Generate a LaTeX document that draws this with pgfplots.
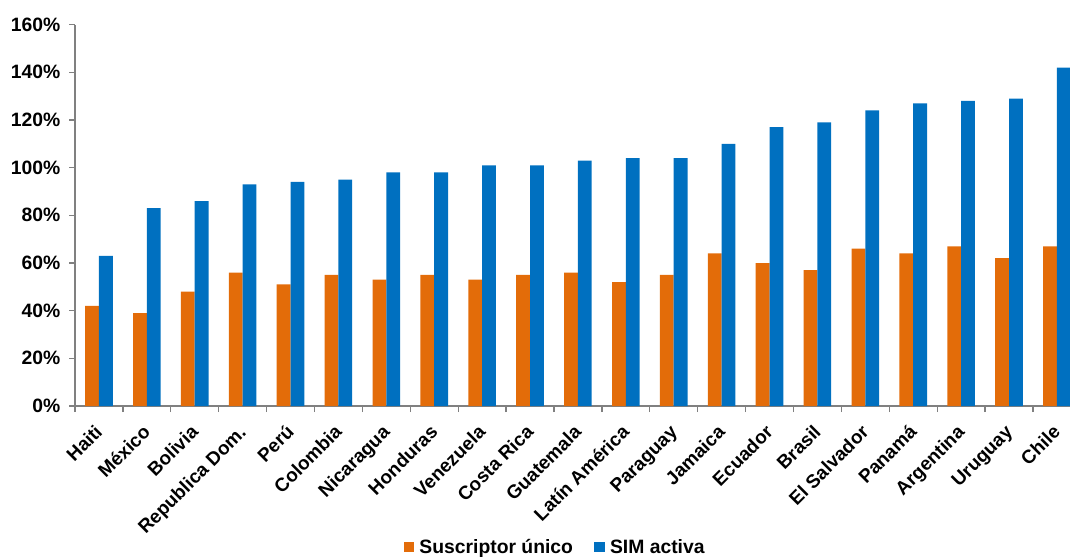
\documentclass[border=0pt]{standalone}
\usepackage{fontspec}
\setmainfont{Liberation Sans}
\usepackage{pgfplots}
\pgfplotsset{compat=1.18}
\definecolor{cOr}{HTML}{E36C09}
\definecolor{cBl}{HTML}{0070C0}
\definecolor{axgray}{HTML}{808080}
\pgfplotsset{sqleg/.style={legend image code/.code={\fill[##1] (0pt,-3.9pt) rectangle (7.8pt,3.9pt);}}}
\begin{document}
\begin{tikzpicture}
\path[use as bounding box] (0,0) rectangle (802.5pt,417.75pt);
\begin{axis}[
  anchor=south west, at={(56.25pt,113.25pt)},
  scale only axis, width=754.4pt, height=286pt,
  xmin=-0.5, xmax=20.5, ymin=0, ymax=160,
  axis x line*=bottom, axis y line*=left,
  axis line style={axgray, line width=1pt},
  ybar=0pt, bar width=10.35pt,
  xtick={0,...,20},
  xticklabels={Haiti,México,Bolivia,Republica Dom.,Perú,Colombia,Nicaragua,Honduras,Venezuela,Costa Rica,Guatemala,Latín América,Paraguay,Jamaica,Ecuador,Brasil,El Salvador,Panamá,Argentina,Uruguay,Chile},
  major x tick style={draw=none},
  minor xtick={-0.5,0.5,...,20.5},
  minor x tick style={axgray, line width=1pt},
  minor tick length=4.5pt, major tick length=4.5pt,
  tick align=outside,
  y tick style={axgray, line width=1pt},
  ytick={0,20,...,160},
  yticklabels={0\%,20\%,40\%,60\%,80\%,100\%,120\%,140\%,160\%},
  yticklabel style={font=\bfseries\fontsize{14.5}{16}\selectfont, xshift=-3pt},
  xticklabel style={font=\bfseries\fontsize{14.2}{16}\selectfont, inner sep=0pt, anchor=base east, xshift=3.5pt, yshift=-16pt, rotate=45},
  legend style={at={(0.479,-0.37)}, anchor=center, draw=none, fill=none,
    legend columns=2, font=\bfseries\fontsize{14.5}{16}\selectfont,
    /tikz/every even column/.append style={column sep=12pt},
    nodes={inner xsep=4pt}},
]
\addplot[fill=cOr, draw=none, sqleg] coordinates {
(0,42) (1,39) (2,48) (3,56) (4,51) (5,55) (6,53) (7,55) (8,53) (9,55) (10,56)
(11,52) (12,55) (13,64) (14,60) (15,57) (16,66) (17,64) (18,67) (19,62) (20,67)};
\addlegendentry{Suscriptor único}
\addplot[fill=cBl, draw=none, sqleg] coordinates {
(0,63) (1,83) (2,86) (3,93) (4,94) (5,95) (6,98) (7,98) (8,101) (9,101) (10,103)
(11,104) (12,104) (13,110) (14,117) (15,119) (16,124) (17,127) (18,128) (19,129) (20,142)};
\addlegendentry{SIM activa}
\end{axis}
\end{tikzpicture}
\end{document}
